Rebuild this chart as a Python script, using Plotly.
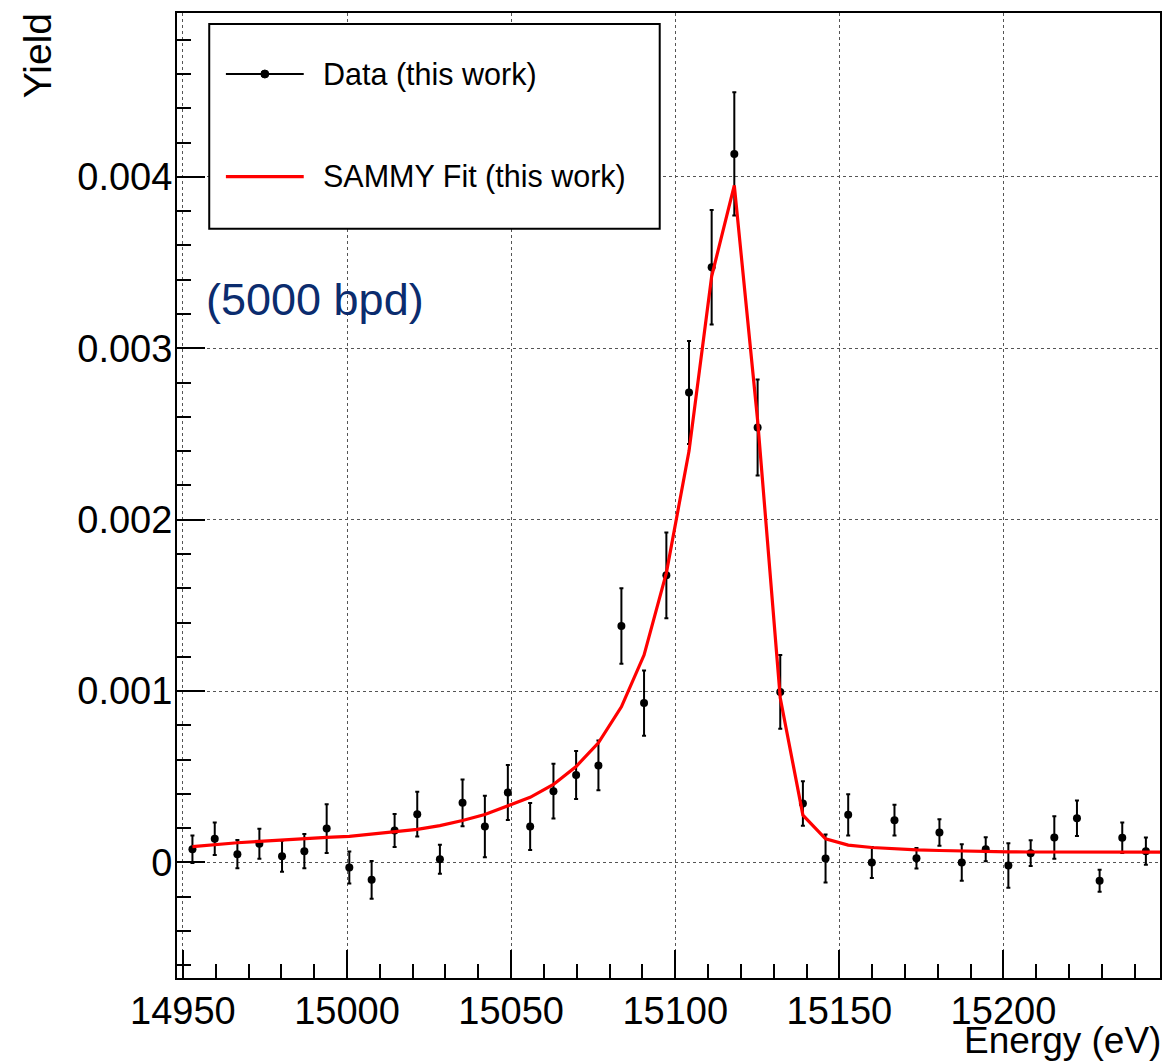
import plotly.graph_objects as go

# ---- data ----
energy = [14952.9, 14959.7, 14966.6, 14973.3, 14980.2, 14987.0, 14993.8, 15000.7, 15007.5, 15014.5,
          15021.4, 15028.3, 15035.2, 15042.0, 15049.0, 15055.8, 15062.9, 15069.8, 15076.6, 15083.6,
          15090.5, 15097.3, 15104.2, 15111.1, 15118.0, 15125.1, 15132.0, 15138.9, 15145.8, 15152.7,
          15159.9, 15166.8, 15173.5, 15180.5, 15187.3, 15194.6, 15201.5, 15208.3, 15215.5, 15222.4,
          15229.3, 15236.2, 15243.4]
yield_data = [0.0000776, 0.000138, 0.0000484, 0.000109, 0.0000368, 0.000066, 0.000198, -0.000029, -0.000101, 0.000187,
              0.000282, 0.000019, 0.000348, 0.00021, 0.000408, 0.00021, 0.000416, 0.000511, 0.000566, 0.00138,
              0.00093, 0.001675, 0.002742, 0.003473, 0.004134, 0.002538, 0.000995, 0.000344, 0.0000233, 0.000278,
              0.0, 0.000247, 0.000025, 0.000175, 0.0, 0.0000776, -0.0000175, 0.000054, 0.000146, 0.000258,
              -0.000107, 0.000144, 0.000066]
yield_err = [0.00008, 0.000095, 0.000082, 0.000088, 0.000091, 0.0001, 0.000142, 0.000093, 0.00011, 0.000096,
             0.000131, 0.000085, 0.000136, 0.00018, 0.00016, 0.000137, 0.00016, 0.00014, 0.000145, 0.00022,
             0.00019, 0.00025, 0.0003, 0.000334, 0.00036, 0.00028, 0.000215, 0.00013, 0.00014, 0.00012,
             0.00009, 0.00009, 0.00006, 0.000077, 0.000106, 0.00007, 0.00013, 0.000075, 0.000124, 0.000104,
             0.000064, 0.000089, 0.00008]

fit_energy = energy + [15250.3]
fit_yield = [0.000092, 0.000105, 0.000115, 0.000123, 0.000132, 0.00014, 0.000146, 0.000152, 0.000165, 0.000178,
             0.000193, 0.000215, 0.000245, 0.00028, 0.00033, 0.00038, 0.000455, 0.00056, 0.000698, 0.000908,
             0.00121, 0.00169, 0.0024, 0.00342, 0.00395, 0.00258, 0.00096, 0.000276, 0.000138, 0.000101,
             0.0000875, 0.000079, 0.0000735, 0.00007, 0.000066, 0.000064, 0.000062, 0.000061, 0.00006, 0.00006,
             0.00006, 0.00006, 0.00006, 0.00006]

x_range = [14948.2, 15247.7]
y_range = [-0.000674, 0.004956]
x_ticks = [14950, 15000, 15050, 15100, 15150, 15200]
x_ticklabels = ["14950", "15000", "15050", "15100", "15150", "15200"]
y_ticks = [0, 0.001, 0.002, 0.003, 0.004]
y_ticklabels = ["0", "0.001", "0.002", "0.003", "0.004"]

legend_labels = ["Data (this work)", "SAMMY Fit (this work)"]
x_title = "Energy (eV)"
y_title = "Yield"
note_text = "(5000 bpd)"

FONT = "Liberation Sans, Arial, Helvetica, sans-serif"
W, H = 1165, 1064
L, R, T, B = 177, 3, 13, 86
PW, PH = W - L - R, H - T - B


def px(xpix):
    return (xpix - L) / PW


def py(ypix):
    return (H - B - ypix) / PH


fig = go.Figure()

fig.add_trace(go.Scatter(
    x=energy, y=yield_data, mode="markers", name=legend_labels[0],
    marker=dict(color="black", size=8, symbol="circle"),
    error_y=dict(type="data", array=yield_err, visible=True, color="black", thickness=2, width=2),
    showlegend=False, cliponaxis=True,
))
fig.add_trace(go.Scatter(
    x=fit_energy, y=fit_yield, mode="lines", name=legend_labels[1],
    line=dict(color="#ff0000", width=3.2),
    showlegend=False,
))

axis_common = dict(
    showline=True, linecolor="black", linewidth=2, mirror=True,
    ticks="inside", ticklen=28, tickwidth=2, tickcolor="black",
    showgrid=True, gridcolor="#555555", griddash="dot", gridwidth=1,
    zeroline=False,
    tickfont=dict(family=FONT, size=38, color="black"),
)

fig.update_xaxes(
    range=x_range, tickmode="array", tickvals=x_ticks, ticktext=x_ticklabels,
    minor=dict(dtick=10, tick0=14950, ticks="inside", ticklen=14, tickwidth=2, tickcolor="black", showgrid=False),
    ticklabelstandoff=-2,
    **axis_common,
)
fig.update_yaxes(
    range=y_range, tickmode="array", tickvals=y_ticks, ticktext=y_ticklabels,
    minor=dict(dtick=0.0002, tick0=0, ticks="inside", ticklen=14, tickwidth=2, tickcolor="black", showgrid=False),
    ticklabelstandoff=-5,
    **axis_common,
)

# legend box drawn manually (ROOT style)
shapes = [
    dict(type="rect", xref="paper", yref="paper", x0=px(209.3), x1=px(660.7), y0=py(228.7), y1=py(24),
         line=dict(color="black", width=2), fillcolor="white", layer="above"),
    dict(type="line", xref="paper", yref="paper", x0=px(226), x1=px(304), y0=py(74), y1=py(74),
         line=dict(color="black", width=2), layer="above"),
    dict(type="circle", xref="paper", yref="paper", x0=px(261), x1=px(269), y0=py(78), y1=py(70),
         line=dict(color="black", width=1), fillcolor="black", layer="above"),
    dict(type="line", xref="paper", yref="paper", x0=px(226), x1=px(304), y0=py(176.7), y1=py(176.7),
         line=dict(color="#ff0000", width=3.2), layer="above"),
]

annotations = [
    dict(text=legend_labels[0], xref="paper", yref="paper", x=px(321), y=py(74), xanchor="left",
         yanchor="middle", showarrow=False, font=dict(family=FONT, size=30.5, color="black")),
    dict(text=legend_labels[1], xref="paper", yref="paper", x=px(321), y=py(176.7), xanchor="left",
         yanchor="middle", showarrow=False, font=dict(family=FONT, size=30.5, color="black")),
    dict(text=x_title, xref="paper", yref="paper", x=px(1165), y=py(1063), xanchor="right",
         yanchor="bottom", showarrow=False, font=dict(family=FONT, size=37, color="black")),
    dict(text=y_title, xref="paper", yref="paper", x=px(38), y=py(56), xanchor="center",
         yanchor="middle", textangle=-90, showarrow=False, font=dict(family=FONT, size=39, color="black")),
    dict(text=note_text, xref="paper", yref="paper", x=px(204), y=py(299), xanchor="left",
         yanchor="middle", showarrow=False, font=dict(family=FONT, size=45, color="#0b2c6e")),
]

fig.update_layout(
    width=W, height=H,
    margin=dict(l=L, r=R, t=T, b=B, pad=0),
    paper_bgcolor="white", plot_bgcolor="white",
    shapes=shapes, annotations=annotations,
    showlegend=False,
    font=dict(family=FONT),
)

fig.write_html("out.html", config={"displayModeBar": False},
               post_script="document.body.style.margin='0';document.body.style.overflow='hidden';")
